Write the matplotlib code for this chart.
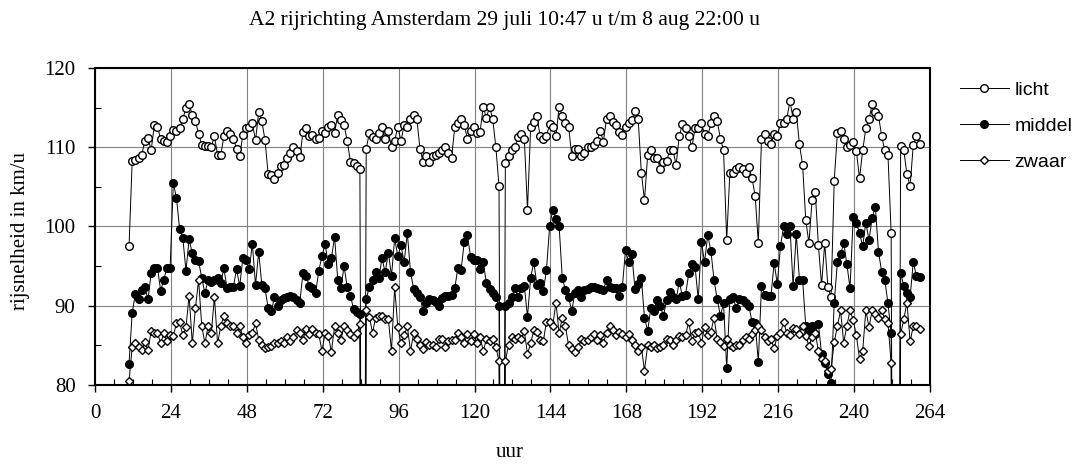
import numpy as np
import matplotlib
matplotlib.use("Agg")
import matplotlib.pyplot as plt
from matplotlib.ticker import MultipleLocator

# hourly averages, hour 11 .. 261 (0 = no data, drawn off the bottom of the chart)
licht = [
    97.5, 108.3, 108.4, 108.7, 109.0, 110.8, 111.2, 109.6, 112.8, 112.6,
    111.0, 110.8, 110.7, 111.4, 112.2, 112.0, 112.4, 113.6, 114.9, 115.5,
    114.1, 113.3, 111.7, 110.3, 110.1, 110.1, 110.0, 111.4, 109.0, 109.0,
    111.4, 112.1, 111.7, 111.1, 109.8, 108.9, 111.6, 112.4, 112.6, 113.0,
    110.9, 114.4, 113.3, 110.9, 106.6, 106.5, 106.0, 106.7, 107.6, 107.8,
    108.6, 109.3, 110.0, 109.5, 108.75, 111.9, 112.4, 111.4, 111.5, 111.0,
    111.2, 112.0, 111.8, 112.6, 112.8, 111.8, 114.1, 113.5, 112.8, 110.8,
    108.2, 108.0, 107.6, 107.2, 0, 109.8, 111.8, 111.25, 111.1, 111.8,
    112.6, 111.1, 112.0, 110.0, 110.8, 112.6, 110.8, 112.8, 112.6, 113.6,
    114.1, 113.6, 109.8, 108.1, 108.9, 108.1, 108.9, 109.0, 109.3, 109.6,
    110.0, 109.3, 108.7, 112.5, 113.0, 113.6, 112.8, 111.1, 112.0, 112.6,
    111.8, 111.9, 115.1, 113.7, 115.1, 113.6, 110.0, 105.1, 0, 108.0,
    108.9, 109.6, 110.0, 111.25, 111.7, 111.1, 102.1, 112.5, 113.25, 113.9,
    111.4, 111.1, 111.4, 112.9, 112.6, 111.4, 115.1, 114.0, 113.0, 112.6,
    108.9, 109.8, 109.8, 108.9, 109.3, 110.0, 110.0, 110.3, 110.8, 112.1,
    110.7, 113.6, 113.9, 113.25, 112.75, 111.9, 111.5, 112.6, 113.0, 113.5,
    114.6, 113.6, 106.8, 103.3, 109.0, 109.6, 108.6, 108.6, 107.3, 108.2,
    108.25, 109.6, 109.6, 107.8, 111.4, 112.9, 112.4, 111.4, 110.0, 112.4,
    112.4, 113.0, 111.7, 111.4, 113.0, 113.9, 113.3, 111.1, 109.6, 98.3,
    106.8, 106.8, 107.2, 107.5, 107.3, 106.8, 107.5, 106.1, 103.9, 97.9,
    111.1, 111.7, 110.8, 110.4, 111.7, 111.4, 113.0, 113.0, 113.6, 115.8,
    113.6, 114.4, 110.4, 107.75, 100.8, 97.9, 103.3, 104.4, 97.6, 92.6,
    97.9, 92.4, 91.1, 105.8, 111.8, 112.0, 111.1, 110.0, 110.3, 110.7,
    109.5, 106.1, 109.6, 112.4, 113.6, 115.4, 114.4, 114.0, 111.4, 109.6,
    109.0, 99.2, 0, 0, 110.1, 109.6, 106.6, 105.1, 110.3, 111.4, 110.4,
]

middel = [
    82.7, 89.1, 91.5, 90.8, 92.0, 92.3, 90.8, 94.1, 94.8, 94.8,
    91.9, 93.3, 94.8, 94.8, 105.5, 103.6, 99.7, 98.6, 94.4, 98.4,
    96.6, 95.8, 95.6, 93.5, 91.6, 93.25, 93.0, 93.2, 93.5, 92.9,
    94.7, 92.2, 92.4, 92.4, 94.6, 92.5, 96.0, 95.8, 94.6, 97.8,
    92.6, 96.8, 92.6, 92.2, 89.7, 89.3, 91.1, 90.0, 90.75, 91.0,
    91.1, 91.2, 91.1, 90.7, 90.4, 94.1, 93.7, 92.5, 92.2, 91.6,
    94.4, 96.25, 97.75, 95.3, 96.0, 98.7, 93.3, 92.2, 95.0, 92.3,
    91.25, 89.6, 89.2, 88.9, 0, 90.8, 92.4, 93.3, 94.2, 93.5,
    96.0, 94.2, 96.7, 93.75, 98.5, 96.25, 97.6, 95.5, 99.2, 94.3,
    92.1, 91.6, 91.1, 89.3, 90.4, 90.8, 90.75, 90.5, 90.0, 91.0,
    91.2, 91.25, 91.4, 92.2, 94.8, 94.5, 98.0, 98.9, 96.2, 95.8,
    95.75, 94.6, 95.5, 92.9, 92.1, 91.6, 91.1, 89.9, 0, 90.0,
    90.3, 91.1, 92.2, 91.1, 92.2, 92.5, 88.6, 93.5, 95.5, 92.6,
    92.9, 91.8, 94.5, 100.0, 102.1, 101.0, 100.1, 93.5, 92.0, 91.1,
    89.3, 91.6, 92.0, 91.1, 92.0, 92.1, 92.3, 92.4, 92.2, 92.1,
    92.0, 93.25, 92.4, 92.2, 92.2, 91.25, 92.4, 97.0, 95.5, 96.5,
    92.1, 92.8, 93.5, 88.5, 86.8, 89.7, 89.3, 90.75, 89.9, 88.75,
    90.7, 91.7, 91.1, 90.8, 93.0, 91.2, 91.4, 94.1, 95.25, 94.9,
    90.8, 98.0, 95.5, 98.9, 96.9, 93.25, 90.8, 88.75, 90.3, 82.1,
    90.8, 91.1, 89.7, 90.8, 90.7, 90.4, 90.0, 88.0, 87.8, 82.9,
    92.5, 91.4, 91.25, 91.25, 95.4, 92.75, 97.5, 100.0, 99.0, 100.0,
    92.5, 99.1, 93.25, 93.3, 87.4, 86.8, 87.5, 86.4, 87.75, 83.9,
    82.75, 81.4, 80.3, 90.4, 95.5, 96.5, 97.9, 95.25, 92.2, 101.25,
    100.4, 99.2, 97.5, 100.5, 98.25, 101.1, 102.5, 96.8, 94.3, 93.25,
    90.3, 86.5, 0, 0, 94.1, 92.5, 91.6, 91.1, 95.5, 93.75, 93.6,
]

zwaar = [
    80.5, 84.8, 85.3, 84.8, 84.4, 85.4, 84.4, 86.8, 86.6, 86.5,
    85.3, 86.5, 85.5, 86.25, 86.2, 87.8, 88.0, 86.25, 87.3, 91.25,
    85.25, 89.7, 93.25, 87.4, 85.25, 87.4, 86.5, 91.1, 85.25, 87.4,
    88.75, 87.8, 87.4, 87.4, 86.5, 87.4, 86.1, 85.25, 86.25, 86.5,
    87.8, 85.7, 85.0, 84.6, 84.8, 84.9, 85.25, 85.25, 85.5, 85.3,
    86.0, 85.5, 86.1, 86.9, 86.5, 85.7, 87.1, 86.4, 87.1, 86.5,
    86.4, 84.3, 86.5, 86.2, 84.2, 87.4, 86.6, 85.7, 87.5, 86.9,
    86.4, 86.0, 86.5, 87.7, 0, 89.4, 88.6, 86.6, 88.5, 88.75,
    88.75, 88.3, 88.3, 84.3, 92.3, 87.3, 85.25, 86.25, 87.4, 84.3,
    86.5, 85.75, 85.0, 84.5, 85.4, 85.0, 85.1, 84.8, 85.75, 85.8,
    84.8, 85.5, 85.7, 85.7, 86.6, 86.1, 85.25, 86.4, 85.5, 86.4,
    85.3, 86.1, 84.3, 85.75, 85.5, 85.8, 84.8, 83.0, 0, 83.0,
    85.0, 86.1, 85.8, 86.1, 85.8, 86.8, 83.9, 85.25, 86.9, 86.7,
    85.7, 85.5, 88.0, 88.0, 87.5, 90.4, 86.5, 88.5, 87.4, 85.0,
    84.5, 84.1, 84.8, 85.75, 85.5, 85.7, 86.0, 86.4, 85.7, 86.25,
    85.3, 86.6, 87.5, 86.9, 86.25, 86.7, 86.4, 86.1, 86.4, 85.7,
    85.0, 84.3, 84.8, 81.8, 85.0, 84.8, 85.0, 84.6, 84.8, 85.1,
    85.8, 85.7, 85.0, 85.7, 86.2, 86.0, 86.25, 88.0, 85.5, 86.5,
    86.7, 85.3, 87.3, 86.25, 86.7, 88.5, 85.75, 85.4, 84.9, 85.8,
    85.0, 84.8, 85.0, 85.1, 85.7, 86.0, 85.8, 86.4, 86.9, 87.5,
    86.9, 86.0, 85.5, 85.8, 84.6, 86.2, 86.5, 88.0, 86.5, 86.25,
    87.2, 87.1, 86.4, 87.4, 86.2, 84.9, 86.0, 86.6, 84.3, 83.25,
    83.0, 81.8, 82.0, 85.4, 87.4, 89.4, 85.3, 87.5, 89.4, 88.2,
    86.25, 83.3, 84.3, 89.4, 87.3, 89.4, 89.0, 88.5, 89.4, 88.3,
    87.8, 82.75, 0, 0, 86.4, 88.3, 90.4, 85.5, 87.4, 87.4, 87.1,
]

first_hour = 10.75
x_ticks = list(range(0, 265, 24))
y_ticks = [80, 90, 100, 110, 120]

serif = "Liberation Serif"
sans = "Liberation Sans"

fig = plt.figure(figsize=(10.8, 4.66), dpi=100)
ax = fig.add_axes([0.088, 0.174, 0.773, 0.680])

def hours(vals):
    return first_hour + np.arange(len(vals))

ax.plot(hours(licht), licht, color="black", lw=0.7, marker="o", ms=5.5,
        mfc="white", mec="black", mew=1.0, label="licht")
ax.plot(hours(middel), middel, color="black", lw=0.7, marker="o", ms=5.5,
        mfc="black", mec="black", mew=1.0, label="middel")
ax.plot(hours(zwaar), zwaar, color="black", lw=0.7, marker="D", ms=4.3,
        mfc="white", mec="black", mew=1.0, label="zwaar")

ax.set_xlim(0, 264)
ax.set_ylim(80, 120)
ax.set_xticks(x_ticks)
ax.set_yticks(y_ticks)
ax.xaxis.set_minor_locator(MultipleLocator(6))
ax.yaxis.set_minor_locator(MultipleLocator(5))
ax.tick_params(which="major", direction="out", length=5, width=1, pad=9)
ax.tick_params(which="minor", direction="in", length=4, width=0.8)
ax.grid(True, which="major", color="#808080", lw=0.8)
ax.set_axisbelow(True)
for s in ax.spines.values():
    s.set_linewidth(1.5)
for lab in ax.get_xticklabels() + ax.get_yticklabels():
    lab.set_family(serif)
    lab.set_fontsize(15)

fig.text(0.467, 0.955, "A2 rijrichting Amsterdam 29 juli 10:47 u t/m 8 aug 22:00 u",
         ha="center", va="center", family=serif, fontsize=15.5)
fig.text(0.019, 0.504, "rijsnelheid in km/u", rotation=90, ha="center", va="center",
         family=serif, fontsize=15)
fig.text(0.472, 0.028, "uur", ha="center", va="center", family=serif, fontsize=15)

fig.legend(loc="upper left", bbox_to_anchor=(0.889, 0.826), frameon=False,
           prop={"family": sans, "size": 14}, handlelength=2.5, handletextpad=0.3,
           labelspacing=0.95, borderpad=0, borderaxespad=0)

fig.savefig("out.png", dpi=100)
